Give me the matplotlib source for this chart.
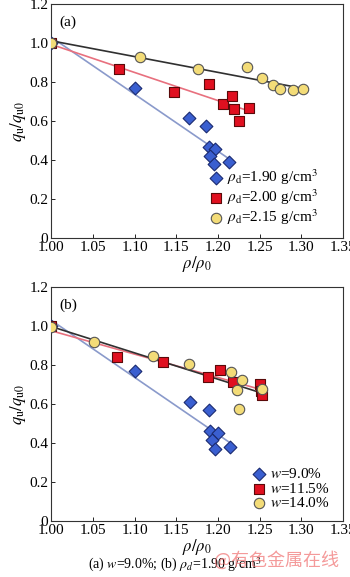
import numpy as np
import matplotlib.pyplot as plt

plt.rcParams['font.family'] = ['Liberation Serif', 'DejaVu Serif']
plt.rcParams['mathtext.fontset'] = 'stix'

# (a) w = 9.0%, 不同干密度
a_190_x = [1.000, 1.100, 1.165, 1.186, 1.189, 1.197, 1.191, 1.195, 1.213]
a_190_y = [1.000, 0.770, 0.614, 0.574, 0.467, 0.455, 0.422, 0.381, 0.388]
a_200_x = [1.000, 1.081, 1.147, 1.189, 1.206, 1.217, 1.219, 1.225, 1.237]
a_200_y = [1.000, 0.867, 0.749, 0.791, 0.686, 0.727, 0.662, 0.600, 0.666]
a_215_x = [1.000, 1.106, 1.176, 1.235, 1.253, 1.266, 1.274, 1.290, 1.302]
a_215_y = [1.000, 0.930, 0.867, 0.875, 0.819, 0.786, 0.766, 0.759, 0.762]

# (b) rho_d = 1.90 g/cm3, 不同含水率
b_90_x = [1.000, 1.100, 1.166, 1.189, 1.190, 1.200, 1.193, 1.197, 1.214]
b_90_y = [1.000, 0.769, 0.609, 0.569, 0.463, 0.450, 0.415, 0.369, 0.381]
b_115_x = [1.000, 1.079, 1.134, 1.188, 1.203, 1.218, 1.250, 1.252, 1.253]
b_115_y = [1.000, 0.841, 0.814, 0.737, 0.774, 0.711, 0.703, 0.668, 0.646]
b_140_x = [1.000, 1.051, 1.122, 1.165, 1.216, 1.229, 1.223, 1.225, 1.253]
b_140_y = [0.993, 0.916, 0.848, 0.807, 0.766, 0.725, 0.670, 0.574, 0.675]

labels_a = [r'$\rho_{\rm d}$=1.90 g/cm$^3$', r'$\rho_{\rm d}$=2.00 g/cm$^3$',
            r'$\rho_{\rm d}$=2.15 g/cm$^3$']
labels_b = [r'$w$=9.0%', r'$w$=11.5%', r'$w$=14.0%']

xticks = [1.00, 1.05, 1.10, 1.15, 1.20, 1.25, 1.30, 1.35]
yticks = [0, 0.2, 0.4, 0.6, 0.8, 1.0, 1.2]

markers = ['D', 's', 'o']
faces = ['#3a5fd0', '#e01020', '#f3dc78']
edges = ['#1a2a70', '#5a0a0a', '#555555']
sizes = [6.5, 7, 7.5]
linecols = ['#8a9acb', '#e8707e', '#303030']

fig = plt.figure(figsize=(3.5, 5.77), dpi=100)
ax1 = fig.add_axes([0.146, 0.5875, 0.834, 0.4055])
ax2 = fig.add_axes([0.146, 0.097, 0.834, 0.4055])


def draw(ax, xs, ys, labels, tag, anchor):
    # 拟合直线
    for x, y, c in zip(xs, ys, linecols):
        k, b = np.polyfit(x, y, 1)
        xx = np.array([1.0, max(x)])
        ax.plot(xx, k * xx + b, color=c, lw=1.2, zorder=2)
    hs = []
    for x, y, m, f, e, s, lab in zip(xs, ys, markers, faces, edges, sizes, labels):
        h = ax.scatter(x, y, marker=m, s=s ** 2, facecolor=f, edgecolor=e,
                       linewidth=0.8, zorder=3, label=lab)
        hs.append(h)
    ax.set_xlim(1.0, 1.35)
    ax.set_ylim(0, 1.2)
    ax.set_xticks(xticks)
    ax.set_xticklabels(['%.2f' % t for t in xticks])
    ax.set_yticks(yticks)
    ax.set_yticklabels(['0' if t == 0 else '%.1f' % t for t in yticks])
    ax.tick_params(direction='in', labelsize=11, length=3, width=0.6, pad=2)
    for sp in ax.spines.values():
        sp.set_linewidth(0.8)
        sp.set_color('#333333')
    ax.set_xlabel(r'$\rho/\rho_0$', fontsize=12, labelpad=0)
    ax.set_ylabel(r'$q_{\rm u}/q_{\rm u0}$', fontsize=12, labelpad=1)
    ax.text(0.03, 0.95, tag, transform=ax.transAxes, fontsize=11, va='top')
    ax.legend(handles=hs, loc='lower right', bbox_to_anchor=(anchor, 0.0),
              frameon=False, fontsize=11, handletextpad=0.1,
              labelspacing=0.05, borderaxespad=0.3, handlelength=1.2)


draw(ax1, [a_190_x, a_200_x, a_215_x], [a_190_y, a_200_y, a_215_y], labels_a, '(a)', 0.95)
draw(ax2, [b_90_x, b_115_x, b_140_x], [b_90_y, b_115_y, b_140_y], labels_b, '(b)', 0.99)

fig.text(0.5, 0.006, r'(a) $w$=9.0%; (b) $\rho_{d}$=1.90 g/cm$^3$',
         ha='center', va='bottom', fontsize=10)
fig.text(0.79, 0.012, '@有色金属在线', ha='center', va='bottom', fontsize=13,
         color='#f07070', alpha=0.7, family=['Noto Sans CJK SC', 'DejaVu Sans'])

fig.savefig('out.png', dpi=100)
